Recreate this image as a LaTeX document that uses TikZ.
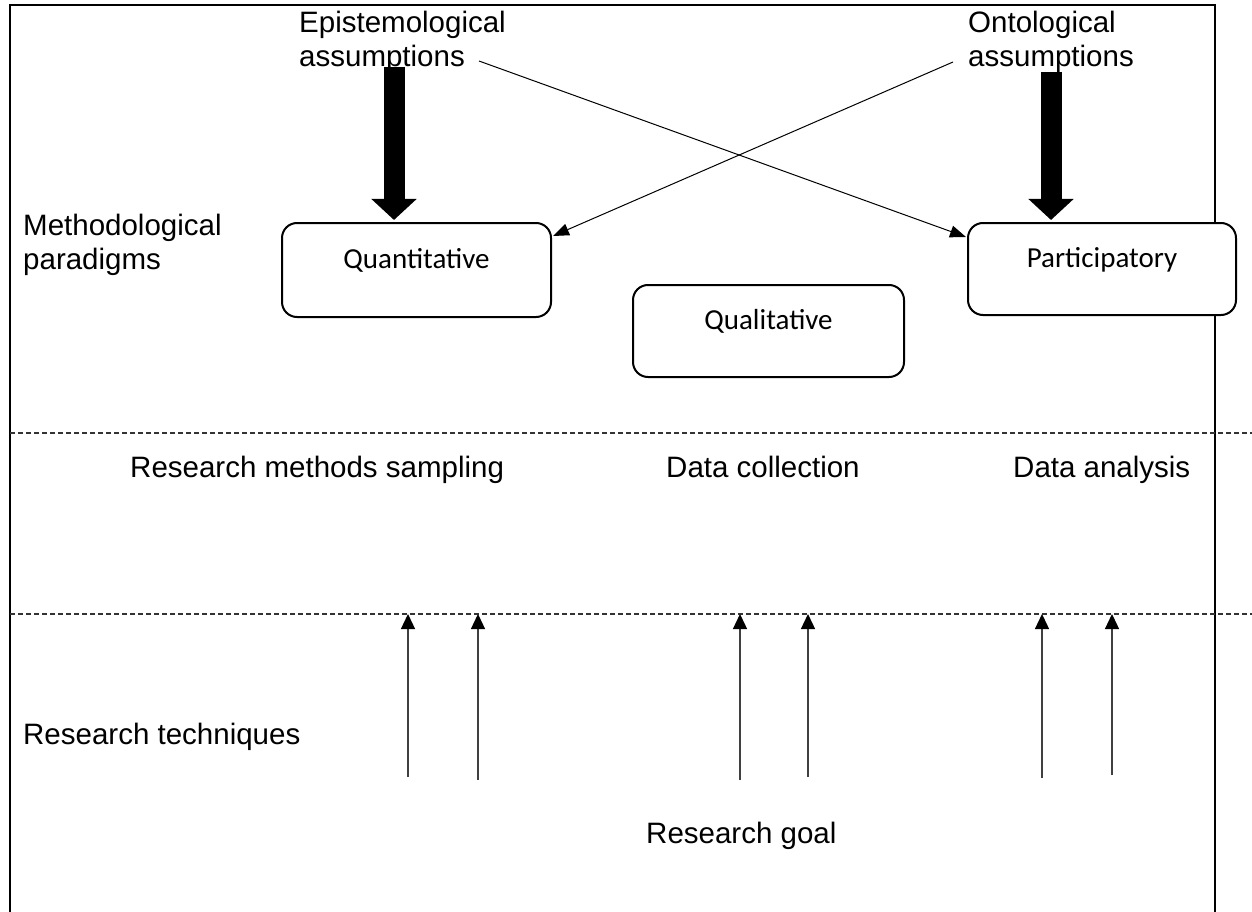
\documentclass[tikz,border=0pt]{standalone}
\usepackage{fontspec}
\setmainfont{Liberation Sans}
\newfontfamily\boxfont{Carlito}
\usetikzlibrary{arrows.meta,calc}
\begin{document}
\begin{tikzpicture}[x=1pt,y=-1pt,
  lbl/.style={inner sep=0pt, anchor=base west, align=left,
    font=\fontsize{29.5}{34}\selectfont},
  paradigm/.style={draw, line width=2pt, rounded corners=15pt, fill=white,
    inner sep=0pt, text height=20pt, text depth=24pt,
    font=\boxfont\fontsize{29}{34}\selectfont},
  heavy/.style={line width=21pt, -{Triangle[length=21pt,width=44pt]}},
  link/.style={line width=1pt, -{Triangle[length=16pt,width=12pt]}},
  up/.style={line width=1.3pt, draw=black!75, -{Triangle[length=15pt,width=14pt,color=black]}},
  divider/.style={line width=1.2pt, draw=black!80, dash pattern=on 5pt off 3pt},
  frame/.style={line width=2pt}]
\useasboundingbox (0,0) rectangle (1252,912);

% outer frame (open at the bottom)
\coordinate (fbl) at (10,912);
\coordinate (ftl) at (10,5);
\coordinate (ftr) at (1215,5);
\coordinate (fbr) at (1215,912);
\draw[frame] (fbl) -- (ftl) -- (ftr) -- (fbr);

% level dividers
\coordinate (d1a) at (10,433);  \coordinate (d1b) at (1252,433);
\coordinate (d2a) at (10,614);  \coordinate (d2b) at (1252,614);
\draw[divider] (d1a) -- (d1b);
\draw[divider] (d2a) -- (d2b);

% labels (multi-line labels are placed by their last baseline)
\node[lbl] (epi)  at (299,67)  {Epistemological\\assumptions};
\node[lbl] (ont)  at (968,67)  {Ontological\\assumptions};
\node[lbl] (meth) at (23,269)  {Methodological\\paradigms};
\node[lbl] (rms)  at (130,477) {Research methods sampling};
\node[lbl] (dc)   at (666,477) {Data collection};
\node[lbl] (da)   at (1013,477) {Data analysis};
\node[lbl] (rt)   at (23,744)  {Research techniques};
\node[lbl] (rg)   at (646,843) {Research goal};

% thin crossing links
\coordinate (epiEnd) at (479,61);
\coordinate (ontEnd) at (953,62);

% paradigm boxes
\node[paradigm, minimum width=269pt, minimum height=94pt] (quan) at (416.5,270) {Quantitative};
\node[paradigm, minimum width=268pt, minimum height=92pt] (part) at (1102,269) {Participatory};
\node[paradigm, minimum width=271pt, minimum height=92pt] (qual) at (768.5,331) {Qualitative};

\draw[link] (epiEnd) -- ($(part.north west)+(-1,15)$);
\draw[link] (ontEnd) -- ($(quan.north east)+(1,14)$);

% heavy assumption arrows
\coordinate (epiTail) at (394,67);
\coordinate (ontTail) at (1051,72);
\draw[heavy, shorten >=2pt] (epiTail) -- (epiTail |- quan.north);
\draw[heavy, shorten >=2pt] (ontTail) -- (ontTail |- part.north);

% technique arrows
\foreach \x/\yb [count=\i] in {408/777, 478/780, 740/780, 808/777, 1042/778, 1112/775} {
  \coordinate (tail\i) at (\x,\yb);
  \coordinate (head\i) at (\x,614);
  \draw[up] (tail\i) -- (head\i);
}
\end{tikzpicture}
\end{document}
